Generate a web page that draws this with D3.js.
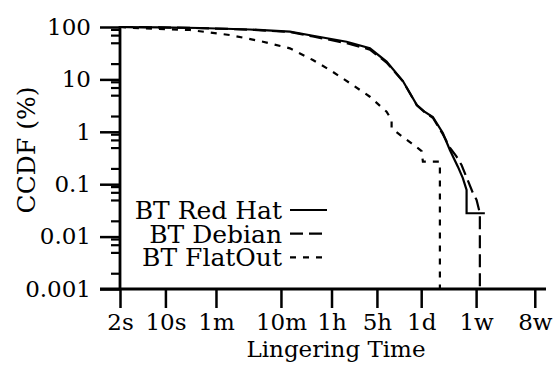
<!DOCTYPE html>
<html>
<head>
<meta charset="utf-8">
<script src="https://cdn.jsdelivr.net/npm/d3@7"></script>
<style>
  body { margin: 0; background: #fff; }
  svg { display: block; }
</style>
</head>
<body>
<svg class="chart"></svg>
<script>
//======
// Data
//======

// time in seconds, ccdf in percent
var redHat = [
  [2, 100], [8.2, 98], [34, 95.7], [200, 89.6], [824, 81.3], [1862, 68.2],
  [6150, 52.4], [14030, 39.2], [25340, 21.8], [45200, 9.3], [74100, 3.25],
  [98400, 2.39], [130600, 1.92], [186000, 0.95], [238800, 0.45],
  [317000, 0.216], [378000, 0.131], [431600, 0.0775], [431600, 0.0279],
  [824000, 0.0279]
];
var debian = [
  [2, 100], [8.2, 98], [34, 95.5], [200, 89], [824, 80], [1862, 66],
  [6150, 49], [14030, 37], [25340, 21], [45200, 9.2], [74100, 3.2],
  [98400, 2.35], [130600, 1.85], [186000, 0.9], [238800, 0.5],
  [302800, 0.335], [361000, 0.232], [540000, 0.068], [615000, 0.05],
  [690800, 0.028], [690800, 0.001]
];
var flatOut = [
  [2, 100], [4.06, 94.4], [23.9, 87.7], [98.4, 70.3], [317, 52.4],
  [824, 39.2], [1862, 23.4], [3404, 15.1], [6900, 8.5], [14030, 4.67],
  [25340, 2.42], [30280, 1.68], [30280, 1.17], [43140, 0.83], [61500, 0.6],
  [87700, 0.43], [91800, 0.27], [167600, 0.27], [167600, 0.001]
];

var seriesNames = ["BT Red Hat", "BT Debian", "BT FlatOut"];
var xTickValues = [2, 10, 60, 600, 3600, 18000, 86400, 604800, 4838400];
var xTickLabels = ["2s", "10s", "1m", "10m", "1h", "5h", "1d", "1w", "8w"];
var yTickValues = [0.001, 0.01, 0.1, 1, 10, 100];
var yTickLabels = ["0.001", "0.01", "0.1", "1", "10", "100"];
var yMinorSteps = [2, 5, 7, 9];

//=======
// Chart
//=======

var width = 555,
  height = 365,
  plotLeft = 120,
  plotRight = 546,
  plotTop = 27,
  plotBottom = 289,
  font = "'DejaVu Serif', serif",
  fontSize = 23;

var svg = d3.select(".chart")
  .attr("width", width)
  .attr("height", height);

var x = d3.scaleLog().domain([2, 7.2e6]).range([plotLeft, plotRight]);
var y = d3.scaleLog().domain([0.001, 100]).range([plotBottom, plotTop]);

var minorTicks = [];
yTickValues.slice(0, -1).forEach(function(d) {
  yMinorSteps.forEach(function(s) { minorTicks.push(d * s); });
});

// minor y ticks
svg.append("g")
  .attr("transform", "translate(" + plotLeft + ",0)")
  .call(d3.axisLeft(y).tickValues(minorTicks).tickSize(9).tickFormat(""))
  .call(function(g) { g.select(".domain").remove(); })
  .selectAll("line").attr("stroke", "#000").attr("stroke-width", 2.2);

// major y ticks
var yAxis = svg.append("g")
  .attr("transform", "translate(" + plotLeft + ",0)")
  .call(d3.axisLeft(y).tickValues(yTickValues).tickSize(20).tickPadding(9)
    .tickFormat(function(d, i) { return yTickLabels[i]; }));
yAxis.attr("font-family", font).attr("font-size", fontSize);
yAxis.select(".domain").remove();
yAxis.selectAll("line").attr("stroke", "#000").attr("stroke-width", 2.5);

// x ticks
var xAxis = svg.append("g")
  .attr("transform", "translate(0," + plotBottom + ")")
  .call(d3.axisBottom(x).tickValues(xTickValues).tickSize(19).tickPadding(6)
    .tickFormat(function(d, i) { return xTickLabels[i]; }));
xAxis.attr("font-family", font).attr("font-size", fontSize);
xAxis.select(".domain").remove();
xAxis.selectAll("line").attr("stroke", "#000").attr("stroke-width", 2.5);

// axis lines
svg.append("line")
  .attr("x1", plotLeft).attr("x2", plotLeft)
  .attr("y1", plotTop - 1).attr("y2", plotBottom + 1)
  .attr("stroke", "#000").attr("stroke-width", 2.8);
svg.append("line")
  .attr("x1", plotLeft - 20).attr("x2", plotRight)
  .attr("y1", plotBottom).attr("y2", plotBottom)
  .attr("stroke", "#000").attr("stroke-width", 2.8);

// curves
var line = d3.line()
  .x(function(d) { return x(d[0]); })
  .y(function(d) { return y(d[1]); });

var series = [
  { name: seriesNames[0], data: redHat, dash: null },
  { name: seriesNames[1], data: debian, dash: "13,6" },
  { name: seriesNames[2], data: flatOut, dash: "6,7" }
];

svg.append("g").selectAll("path")
  .data(series)
  .enter()
  .append("path")
  .attr("d", function(d) { return line(d.data); })
  .attr("fill", "none")
  .attr("stroke", "#000")
  .attr("stroke-width", 2.2)
  .attr("stroke-dasharray", function(d) { return d.dash; });

// legend
var legend = svg.append("g").selectAll("g")
  .data(series)
  .enter()
  .append("g")
  .attr("transform", function(d, i) { return "translate(0," + (210 + i * 23.7) + ")"; });

legend.append("text")
  .attr("x", 282)
  .attr("dy", "0.36em")
  .attr("text-anchor", "end")
  .attr("font-family", font)
  .attr("font-size", 25)
  .text(function(d) { return d.name; });

legend.append("line")
  .attr("x1", 290).attr("x2", 327)
  .attr("stroke", "#000")
  .attr("stroke-width", 2.2)
  .attr("stroke-dasharray", function(d) { return d.dash; });

// axis titles
svg.append("text")
  .attr("x", (plotLeft + plotRight) / 2 + 3)
  .attr("y", 357)
  .attr("text-anchor", "middle")
  .attr("font-family", font)
  .attr("font-size", fontSize)
  .text("Lingering Time");

svg.append("text")
  .attr("transform", "translate(35,150) rotate(-90)")
  .attr("text-anchor", "middle")
  .attr("font-family", font)
  .attr("font-size", 25)
  .text("CCDF (%)");
</script>
</body>
</html>
